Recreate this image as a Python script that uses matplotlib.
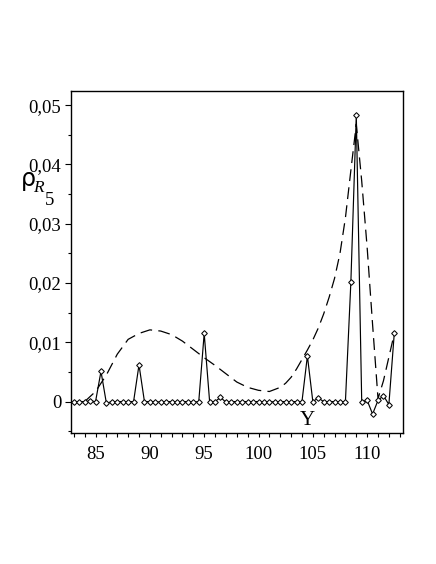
import matplotlib
matplotlib.use("Agg")
import matplotlib.pyplot as plt
from matplotlib.ticker import MultipleLocator, FuncFormatter

# Solid series: x from 83 to 112.5 step 0.5
x_solid = [83.0, 83.5, 84.0, 84.5, 85.0, 85.5, 86.0, 86.5, 87.0, 87.5,
           88.0, 88.5, 89.0, 89.5, 90.0, 90.5, 91.0, 91.5, 92.0, 92.5,
           93.0, 93.5, 94.0, 94.5, 95.0, 95.5, 96.0, 96.5, 97.0, 97.5,
           98.0, 98.5, 99.0, 99.5, 100.0, 100.5, 101.0, 101.5, 102.0, 102.5,
           103.0, 103.5, 104.0, 104.5, 105.0, 105.5, 106.0, 106.5, 107.0, 107.5,
           108.0, 108.5, 109.0, 109.5, 110.0, 110.5, 111.0, 111.5, 112.0, 112.5]
y_solid = [0.0, 0.0, 0.0, 0.0001, 0.0, 0.0051, -0.0003, 0.0, 0.0, 0.0,
           0.0, 0.0, 0.0062, 0.0, 0.0, 0.0, -0.0001, 0.0, 0.0, 0.0,
           0.0, 0.0, -0.0001, 0.0, 0.0115, 0.0, 0.0, 0.0007, -0.0001, 0.0,
           0.0, 0.0, 0.0, 0.0, 0.0, 0.0, -0.0001, 0.0, 0.0, 0.0,
           0.0, 0.0, 0.0, 0.0077, 0.0, 0.0006, 0.0, 0.0, 0.0, 0.0,
           0.0, 0.0201, 0.0484, 0.0, 0.0002, -0.0021, 0.0002, 0.0010, -0.0005, 0.0116]

# Dashed (smooth) series
x_dash = [84.0, 85.0, 86.0, 87.0, 88.0, 89.0, 90.0, 91.0, 92.0, 93.0,
          94.0, 95.0, 96.0, 97.0, 98.0, 99.0, 100.0, 101.0, 102.0, 102.5,
          103.0, 103.5, 104.0, 104.5, 105.0, 105.5, 106.0, 106.5, 107.0, 107.5,
          108.0, 108.5, 109.0, 109.5, 110.0, 110.5, 111.0, 111.5, 112.0, 112.5]
y_dash = [0.0, 0.0017, 0.0045, 0.0080, 0.0105, 0.0115, 0.0121, 0.0119, 0.0113, 0.0102,
          0.0088, 0.0074, 0.0061, 0.0047, 0.0033, 0.0024, 0.0019, 0.0017, 0.0024, 0.0031,
          0.0041, 0.0055, 0.0071, 0.0087, 0.0104, 0.0124, 0.0148, 0.0176, 0.0208, 0.0250,
          0.0310, 0.0390, 0.0468, 0.0372, 0.0260, 0.0130, 0.0005, 0.0035, 0.0075, 0.0115]

serif = "Liberation Serif"

fig = plt.figure(figsize=(4.36, 5.64), dpi=100)
ax = fig.add_axes([71/436, 1-433/564, (403-71)/436, (433-91)/564])

ax.plot(x_dash, y_dash, color="black", lw=0.9, ls=(0, (9.5, 5)))
ax.plot(x_solid, y_solid, color="black", lw=0.85, marker="D", ms=2.9,
        mfc="white", mec="black", mew=0.75)

ax.set_xlim(82.74, 113.3)
ax.set_ylim(-0.0053, 0.0524)

ax.xaxis.set_major_locator(MultipleLocator(5))
ax.xaxis.set_minor_locator(MultipleLocator(1))
ax.yaxis.set_major_locator(MultipleLocator(0.01))
ax.yaxis.set_minor_locator(MultipleLocator(0.005))

def yfmt(v, pos):
    if abs(v) < 1e-9:
        return "0"
    return ("%.2f" % v).replace(".", ",")

ax.yaxis.set_major_formatter(FuncFormatter(yfmt))
ax.xaxis.set_major_formatter(FuncFormatter(lambda v, p: "%d" % round(v)))

ax.tick_params(axis="x", which="both", direction="out", length=3.2, width=0.8,
               pad=6, labelsize=13.5)
ax.tick_params(axis="y", which="major", direction="out", length=4, width=0.8,
               pad=3, labelsize=13.5)
ax.tick_params(axis="y", which="minor", direction="out", length=2.5, width=0.8)
for lab in ax.get_xticklabels() + ax.get_yticklabels():
    lab.set_fontfamily(serif)

for s in ax.spines.values():
    s.set_linewidth(1.0)

# x label "Y" inside the plot near the axis
ax.set_xlabel("Y", fontfamily=serif, fontsize=15)
ax.xaxis.set_label_coords(0.711, 0.038)
ax.xaxis.label.set_va("center")

# y label rho_{R_5}
fig.text(21/436, 1-186/564, "ρ", fontfamily="DejaVu Sans", fontsize=17,
         ha="left", va="baseline")
fig.text(33/436, 1-192/564, "R", fontfamily=serif, fontstyle="italic",
         fontsize=12.5, ha="left", va="baseline")
fig.text(45/436, 1-205/564, "5", fontfamily=serif, fontsize=13.5,
         ha="left", va="baseline")

fig.savefig("out.png", dpi=100)
